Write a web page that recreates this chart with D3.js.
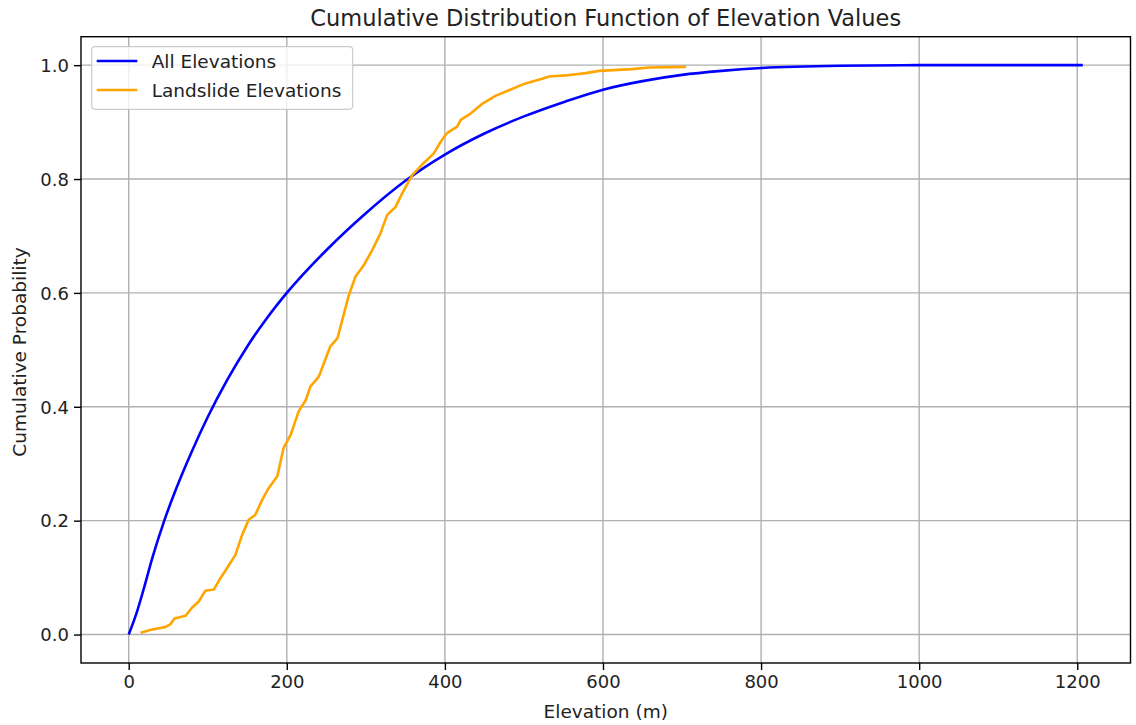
<!DOCTYPE html>
<html>
<head>
<meta charset="utf-8">
<script src="https://cdn.jsdelivr.net/npm/d3@7"></script>
<style>
body { margin: 0; background: #fff; }
text { font-family: "DejaVu Sans", sans-serif; fill: #222; }
</style>
</head>
<body>
<svg id="main"></svg>
<script>
// all elevations (smooth cdf)
var allElev = [0, 10, 20, 30, 45, 60, 80, 100, 125, 150, 175, 200, 250, 300, 350, 400, 450, 500, 550, 600, 650, 700, 750, 800, 900, 1000, 1207];
var allProb = [0, 0.038, 0.085, 0.135, 0.2, 0.256, 0.322, 0.382, 0.448, 0.506, 0.556, 0.6, 0.675, 0.74, 0.797, 0.843, 0.88, 0.91, 0.935, 0.957, 0.972, 0.983, 0.99, 0.995, 0.999, 1.0, 1.0];
// landslide elevations (empirical cdf, jagged)
var slideElev = [15, 29.5, 46, 52.7, 58, 72, 80, 88.6, 97, 107.6, 116, 124.5, 135, 143.5, 152, 160, 169, 177, 188, 196, 205, 215, 224, 230, 240.5, 255, 264, 278.5, 287, 297.5, 308, 318.6, 327, 337.6, 346, 358.6, 371, 386, 394.5, 401, 405, 415.6, 420, 432.5, 447, 464, 481, 502, 523, 531.6, 553, 578, 595, 637, 658, 705];
var slideProb = [0.003, 0.009, 0.013, 0.018, 0.028, 0.033, 0.047, 0.058, 0.077, 0.079, 0.099, 0.117, 0.14, 0.175, 0.202, 0.21, 0.237, 0.257, 0.278, 0.328, 0.351, 0.392, 0.412, 0.436, 0.453, 0.506, 0.52, 0.596, 0.629, 0.649, 0.675, 0.705, 0.737, 0.751, 0.775, 0.807, 0.825, 0.845, 0.865, 0.878, 0.883, 0.892, 0.904, 0.915, 0.932, 0.946, 0.956, 0.968, 0.976, 0.98, 0.982, 0.986, 0.99, 0.993, 0.996, 0.997];
var xTicks = [0, 200, 400, 600, 800, 1000, 1200];
var yTicks = [0, 0.2, 0.4, 0.6, 0.8, 1.0];
var seriesNames = ['All Elevations', 'Landslide Elevations'];
var seriesColors = ['#0000ff', '#ffa500'];

var width = 1136, height = 725;
var m = {l: 81, r: 1130.5, t: 36.7, b: 663};

var svg = d3.select('#main').attr('width', width).attr('height', height);

var x = d3.scaleLinear().domain([-60.35, 1267.35]).range([m.l, m.r]);
var y = d3.scaleLinear().domain([-0.05, 1.05]).range([m.b, m.t]);

// grid
var grid = svg.append('g');
xTicks.forEach(t => grid.append('line')
	.attr('x1', x(t)).attr('x2', x(t)).attr('y1', m.t).attr('y2', m.b)
	.attr('stroke', '#b0b0b0').attr('stroke-width', 1.4));
yTicks.forEach(t => grid.append('line')
	.attr('x1', m.l).attr('x2', m.r).attr('y1', y(t)).attr('y2', y(t))
	.attr('stroke', '#b0b0b0').attr('stroke-width', 1.4));

// lines
var allData = allElev.map((e, i) => [e, allProb[i]]);
var slideData = slideElev.map((e, i) => [e, slideProb[i]]);
svg.append('path')
	.attr('d', d3.line().x(d => x(d[0])).y(d => y(d[1])).curve(d3.curveMonotoneX)(allData))
	.attr('fill', 'none').attr('stroke', seriesColors[0]).attr('stroke-width', 2.6);
svg.append('path')
	.attr('d', d3.line().x(d => x(d[0])).y(d => y(d[1]))(slideData))
	.attr('fill', 'none').attr('stroke', seriesColors[1]).attr('stroke-width', 2.6)
	.attr('stroke-linejoin', 'round');

// axes
var xAxis = svg.append('g').attr('transform', `translate(0,${m.b})`)
	.call(d3.axisBottom(x).tickValues(xTicks).tickFormat(d3.format('d')).tickSize(7).tickPadding(5));
var yAxis = svg.append('g').attr('transform', `translate(${m.l},0)`)
	.call(d3.axisLeft(y).tickValues(yTicks).tickFormat(d3.format('.1f')).tickSize(7).tickPadding(5));
[xAxis, yAxis].forEach(a => {
	a.select('.domain').remove();
	a.selectAll('line').attr('stroke', '#000').attr('stroke-width', 1.4);
	a.selectAll('text').style('font-size', '18px').attr('fill', '#222');
});
yAxis.selectAll('text').attr('dy', '0.35em');

// frame
svg.append('rect')
	.attr('x', m.l).attr('y', m.t).attr('width', m.r - m.l).attr('height', m.b - m.t)
	.attr('fill', 'none').attr('stroke', '#000').attr('stroke-width', 1.4);

// labels
svg.append('text').attr('x', (m.l + m.r) / 2).attr('y', 26)
	.attr('text-anchor', 'middle').style('font-size', '22.5px')
	.text('Cumulative Distribution Function of Elevation Values');
svg.append('text').attr('x', (m.l + m.r) / 2).attr('y', 718)
	.attr('text-anchor', 'middle').style('font-size', '18.5px')
	.text('Elevation (m)');
svg.append('text').attr('transform', 'translate(26,352) rotate(-90)')
	.attr('text-anchor', 'middle').style('font-size', '18.5px')
	.text('Cumulative Probability');

// legend
var legend = svg.append('g');
legend.append('rect')
	.attr('x', 91.7).attr('y', 46.7).attr('width', 261).attr('height', 62.6).attr('rx', 3.5)
	.attr('fill', 'white').attr('fill-opacity', 0.8)
	.attr('stroke', '#cccccc').attr('stroke-width', 1.2);
seriesNames.forEach((name, i) => {
	var ly = 61 + i * 29;
	legend.append('line')
		.attr('x1', 96.7).attr('x2', 137.3).attr('y1', ly).attr('y2', ly)
		.attr('stroke', seriesColors[i]).attr('stroke-width', 2.6);
	legend.append('text').attr('x', 151.7).attr('y', ly + 7)
		.style('font-size', '18.5px').text(name);
});
</script>
</body>
</html>
